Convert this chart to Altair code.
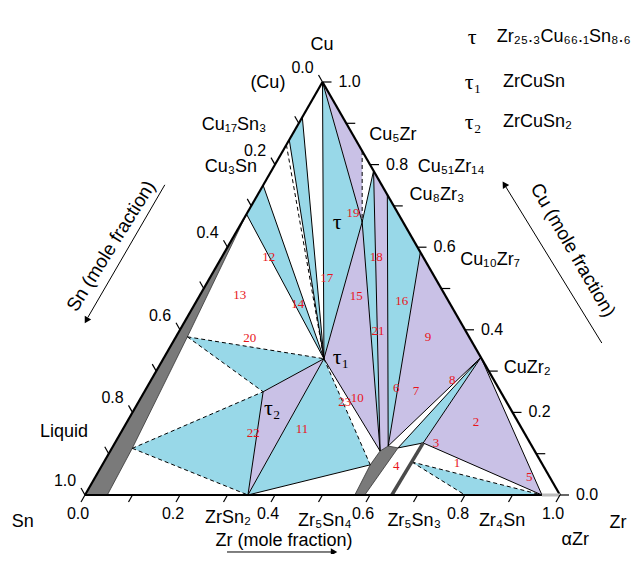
import altair as alt
import pandas as pd

# ---------------- data: phase compositions (Zr fraction, Cu fraction) ----------------
point_names = ["Cu", "Sn", "Zr", "Cu_ss", "Cu17Sn3", "Cu17Sn3_d", "Cu3Sn", "Cu3Sn_b",
               "L6", "L8", "LiqB", "tau1", "tau", "tau2", "ZrSn2", "Q",
               "G1", "G2", "G3", "Gb1", "Gb2", "T", "Tb", "S", "Zr4Sn", "aZr",
               "Cu5Zr", "Cu51Zr14", "Cu8Zr3", "Cu10Zr7", "CuZr2"]
point_zr = [0.0, 0.0, 1.0, 0.0, 0.0, 0.0, 0.0, 0.0,
            0.024, 0.043, 0.047, 0.338, 0.253, 0.25, 0.343, 0.564,
            0.568, 0.579, 0.602, 0.568, 0.589, 0.649, 0.646, 0.648, 0.8, 0.962,
            0.167, 0.215, 0.273, 0.412, 0.667]
point_cu = [1.0, 0.0, 0.0, 0.915, 0.86, 0.848, 0.75, 0.68,
            0.383, 0.113, 0.0, 0.33, 0.661, 0.25, 0.0, 0.073,
            0.1065, 0.1186, 0.114, 0.0, 0.0, 0.126, 0.0, 0.08, 0.0, 0.0,
            0.833, 0.785, 0.727, 0.588, 0.333]

blue_regions = [["Cu_ss", "Cu17Sn3", "tau1"], ["Cu3Sn", "Cu3Sn_b", "tau1"],
                ["L6", "tau1", "tau2"], ["L8", "tau2", "ZrSn2"], ["tau1", "ZrSn2", "Q"],
                ["Cu", "tau", "tau1"], ["tau", "Cu51Zr14", "G1"], ["Cu8Zr3", "Cu10Zr7", "G2"],
                ["CuZr2", "G3", "T"], ["S", "Zr4Sn", "aZr"]]
purple_regions = [["tau2", "tau1", "ZrSn2"], ["Cu", "Cu5Zr", "tau"], ["tau", "tau1", "G1"],
                  ["Cu51Zr14", "Cu8Zr3", "G2", "G1"], ["Cu10Zr7", "CuZr2", "G2"],
                  ["CuZr2", "T", "aZr"]]
grey_regions = [["Sn", "LiqB", "L8", "L6", "Cu3Sn_b"], ["Gb1", "Q", "G1", "G2", "G3", "Gb2"]]

solid_lines = [("Cu_ss", "tau1"), ("Cu17Sn3", "tau1"), ("Cu3Sn", "tau1"), ("Cu3Sn_b", "tau1"),
               ("Cu", "tau1"), ("Cu", "tau"), ("tau", "tau1"), ("tau1", "tau2"), ("tau2", "ZrSn2"),
               ("tau1", "ZrSn2"), ("ZrSn2", "Q"), ("tau1", "G1"), ("tau", "G1"), ("tau", "Cu51Zr14"),
               ("Cu51Zr14", "G1"), ("Cu8Zr3", "G2"), ("Cu10Zr7", "G2"), ("CuZr2", "G2"),
               ("CuZr2", "G3"), ("CuZr2", "T"), ("G3", "T"), ("T", "aZr"), ("CuZr2", "aZr")]
dashed_lines = [("Cu17Sn3_d", "tau1"), ("L6", "tau1"), ("L6", "tau2"), ("L8", "tau2"),
                ("L8", "ZrSn2"), ("tau1", "Q"), ("Cu5Zr", "tau"), ("S", "Zr4Sn"), ("S", "aZr")]
edge_lines = [("Sn", "Cu"), ("Cu", "Zr"), ("Sn", "aZr")]

tick_values = [0.0, 0.1, 0.2, 0.3, 0.4, 0.5, 0.6, 0.7, 0.8, 0.9, 1.0]
tick_label_values = [0.0, 0.2, 0.4, 0.6, 0.8, 1.0]
tick_labels = ["0.0", "0.2", "0.4", "0.6", "0.8", "1.0"]

region_numbers = [str(i) for i in range(1, 24)]
region_number_x = [0.783, 0.823, 0.739, 0.655, 0.935, 0.655, 0.697, 0.773, 0.722, 0.573,
                   0.457, 0.387, 0.326, 0.448, 0.571, 0.667, 0.509, 0.613, 0.564, 0.347,
                   0.617, 0.354, 0.547]
region_number_y = [0.0775, 0.177, 0.126, 0.070, 0.044, 0.259, 0.252, 0.278, 0.383, 0.235,
                   0.160, 0.576, 0.484, 0.462, 0.482, 0.470, 0.525, 0.576, 0.683, 0.380,
                   0.397, 0.150, 0.225]

phase_labels = ["(Cu)", "Cu₁₇Sn₃", "Cu₃Sn", "Cu₅Zr", "Cu₅₁Zr₁₄", "Cu₈Zr₃", "Cu₁₀Zr₇", "CuZr₂",
                "Cu", "Sn", "Zr", "αZr", "ZrSn₂", "Zr₅Sn₄", "Zr₅Sn₃", "Zr₄Sn", "Liquid",
                "Zr (mole fraction)"]
phase_label_x = [0.385, 0.314, 0.307, 0.648, 0.771, 0.741, 0.853, 0.931,
                 0.499, -0.131, 1.122, 1.032, 0.301, 0.505, 0.693, 0.878, -0.044, 0.419]
phase_label_y = [0.998, 0.896, 0.793, 0.872, 0.794, 0.726, 0.569, 0.308,
                 1.090, -0.065, -0.068, -0.109, -0.056, -0.062, -0.062, -0.062, 0.153, -0.111]

tau_labels = ["τ", "τ₁", "τ₂", "τ", "τ₁", "τ₂"]
tau_label_x = [0.531, 0.539, 0.394, 0.815, 0.817, 0.817]
tau_label_y = [0.661, 0.334, 0.211, 1.109, 1.000, 0.903]

legend_texts = ["Zr₂₅.₃Cu₆₆.₁Sn₈.₆", "ZrCuSn", "ZrCuSn₂"]
legend_x = [0.867, 0.88, 0.88]
legend_y = [1.109, 1.000, 0.903]

# ---------------- helpers ----------------
W, H = 475, 413
BLUE, PURPLE, GREY = "#98D8E8", "#C9C1E6", "#7A7A7A"
comp = {n: (z, c) for n, z, c in zip(point_names, point_zr, point_cu)}
P = {n: (z + c / 2.0, c) for n, (z, c) in comp.items()}

xs = alt.Scale(domain=[0, 1], nice=False, zero=False)
ys = alt.Scale(domain=[0, 1], nice=False, zero=False)
X = alt.X("X:Q", scale=xs, axis=None)
Y = alt.Y("Y:Q", scale=ys, axis=None)


def poly_layer(regions, color):
    rows = []
    for k, verts in enumerate(regions):
        for i, n in enumerate(verts):
            rows.append({"pid": k, "i": i, "X": P[n][0], "Y": P[n][1]})
    return alt.Chart(pd.DataFrame(rows)).mark_line(
        fill=color, strokeOpacity=0, strokeWidth=0).encode(
        x=X, y=Y, order=alt.Order("i:Q"), detail="pid:N")


def seg_df(pairs):
    return pd.DataFrame([{"X": P[a][0], "Y": P[a][1], "X2": P[b][0], "Y2": P[b][1]}
                         for a, b in pairs])


def rule_layer(df, **kw):
    return alt.Chart(df).mark_rule(**kw).encode(x=X, y=Y, x2="X2:Q", y2="Y2:Q")


def text_layer(labels, xv, yv, **kw):
    df = pd.DataFrame({"label": labels, "X": xv, "Y": yv})
    return alt.Chart(df).mark_text(**kw).encode(x=X, y=Y, text="label:N")


layers = []
layers.append(poly_layer(blue_regions, BLUE))
layers.append(poly_layer(purple_regions, PURPLE))
layers.append(poly_layer(grey_regions, GREY))
grey_out = []
for verts in grey_regions:
    for a, b in zip(verts, verts[1:] + verts[:1]):
        grey_out.append((a, b))
layers.append(rule_layer(seg_df(grey_out), color="#333333", strokeWidth=0.8))
layers.append(rule_layer(seg_df(solid_lines), color="black", strokeWidth=1))
layers.append(rule_layer(seg_df(dashed_lines), color="black", strokeWidth=1, strokeDash=[4, 3]))
layers.append(rule_layer(seg_df([("Tb", "T")]), color="#4a4a4a", strokeWidth=3.5))
layers.append(rule_layer(seg_df(edge_lines), color="black", strokeWidth=2.2))
layers.append(rule_layer(seg_df([("aZr", "Zr")]), color="#BBBBBB", strokeWidth=3))

# ticks
tick_rows = []
for t in tick_values:
    tick_rows.append({"X": t, "Y": 0.0, "X2": t - 4 / W, "Y2": -7 / H})
    c = 1 - t
    tick_rows.append({"X": c / 2, "Y": c, "X2": c / 2 - 4 / W, "Y2": c + 7 / H})
    tick_rows.append({"X": 1 - t / 2, "Y": t, "X2": 1 - t / 2 + 9 / W, "Y2": t})
layers.append(rule_layer(pd.DataFrame(tick_rows), color="black", strokeWidth=1.2))

# tick labels
tl_lab, tl_x, tl_y = [], [], []
for v, lab in zip(tick_label_values, tick_labels):
    tl_lab += [lab, lab, lab]
    c = 1 - v
    tl_x += [v - 7 / W, c / 2 - 20 / W, 1 - v / 2 + 27 / W]
    tl_y += [-19 / H, c + 14 / H, v]
layers.append(text_layer(tl_lab, tl_x, tl_y, font="Liberation Sans", fontSize=16,
                         align="center", baseline="middle", color="black"))

layers.append(text_layer(phase_labels, phase_label_x, phase_label_y, font="Liberation Sans",
                         fontSize=18, align="center", baseline="middle", color="black"))
layers.append(text_layer(["Sn (mole fraction)"], [0.055], [0.603], font="Liberation Sans",
                         fontSize=19, align="center", baseline="middle", angle=302, color="black"))
layers.append(text_layer(["Cu (mole fraction)"], [1.027], [0.593], font="Liberation Sans",
                         fontSize=19, align="center", baseline="middle", angle=60, color="black"))
layers.append(text_layer(tau_labels, tau_label_x, tau_label_y, font="Liberation Serif",
                         fontSize=22, align="center", baseline="middle", color="black"))
layers.append(text_layer(legend_texts, legend_x, legend_y, font="Liberation Sans",
                         fontSize=18, align="left", baseline="middle", color="black"))
layers.append(text_layer(region_numbers, region_number_x, region_number_y,
                         font="Liberation Serif", fontSize=13, align="center",
                         baseline="middle", color="#E8141B"))

# axis arrows
arrows = pd.DataFrame({"X": [0.168, 1.088, 0.299], "Y": [0.751, 0.368, -0.138],
                       "X2": [0.006, 0.886, 0.520], "Y2": [0.430, 0.746, -0.138]})
layers.append(rule_layer(arrows, color="black", strokeWidth=1))
heads = pd.DataFrame({"X": [0.004, 0.884, 0.522], "Y": [0.425, 0.750, -0.138],
                      "ang": [210, 328, 90]})
layers.append(alt.Chart(heads).mark_point(shape="triangle", filled=True, color="black",
                                          size=55, opacity=1).encode(
    x=X, y=Y, angle=alt.Angle("ang:Q", scale=None)))

chart = alt.layer(*layers).properties(
    width=W, height=H,
    autosize=alt.AutoSizeParams(type="none"),
    padding={"left": 77, "top": 74, "right": 71, "bottom": 59},
    background="white",
).configure_view(strokeOpacity=0)

chart.save("out.html", embed_options={"renderer": "svg", "actions": False})
